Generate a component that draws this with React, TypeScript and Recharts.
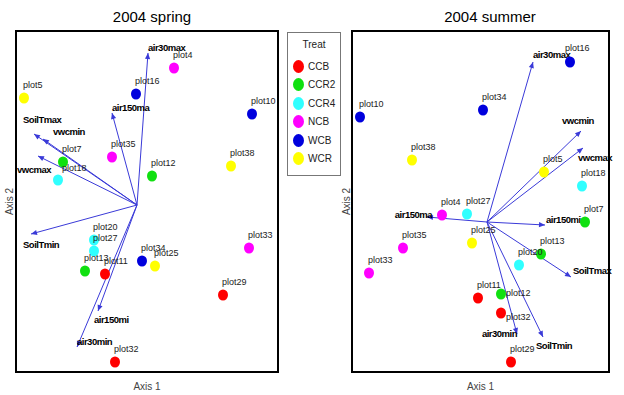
import { ScatterChart, Scatter, XAxis, YAxis, ReferenceLine, ReferenceArea } from 'recharts'

// plots and their treatment
const plots = [
  'plot4', 'plot5', 'plot7', 'plot10', 'plot11', 'plot12', 'plot13', 'plot16', 'plot18',
  'plot20', 'plot25', 'plot27', 'plot29', 'plot32', 'plot33', 'plot34', 'plot35', 'plot38',
]
const treat = [
  'NCB', 'WCR', 'CCR2', 'WCB', 'CCB', 'CCR2', 'CCR2', 'WCB', 'CCR4',
  'CCR4', 'WCR', 'CCR4', 'CCB', 'CCB', 'NCB', 'WCB', 'NCB', 'WCR',
]
const treatments = ['CCB', 'CCR2', 'CCR4', 'NCB', 'WCB', 'WCR']

// site scores, 2004 spring
const springAxis1 = [0.37, -1.13, -0.74, 1.15, -0.32, 0.15, -0.52, -0.01, -0.79, -0.43, 0.18, -0.43, 0.86, -0.22, 1.12, 0.05, -0.25, 0.94]
const springAxis2 = [1.37, 1.07, 0.43, 0.91, -0.69, 0.29, -0.66, 1.11, 0.25, -0.35, -0.61, -0.46, -0.9, -1.57, -0.43, -0.56, 0.48, 0.39]
// site scores, 2004 summer
const summerAxis1 = [-0.45, 0.57, 0.98, -1.27, -0.09, 0.14, 0.54, 0.83, 0.95, 0.32, -0.15, -0.2, 0.24, 0.14, -1.18, -0.04, -0.84, -0.75]
const summerAxis2 = [0.07, 0.5, 0.0, 1.05, -0.76, -0.72, -0.32, 1.6, 0.36, -0.43, -0.21, 0.08, -1.4, -0.91, -0.51, 1.12, -0.26, 0.62]

// environmental vectors
const variables = ['air30max', 'air150ma', 'SoilTmax', 'vwcmin', 'vwcmax', 'SoilTmin', 'air150mi', 'air30min']
const springVec1 = [0.11, -0.25, -1.03, -0.94, -0.99, -1.06, -0.39, -0.6]
const springVec2 = [1.52, 0.92, 0.71, 0.66, 0.49, -0.29, -1.06, -1.42]
const summerVec1 = [0.46, -0.6, 0.84, 0.94, 0.96, 0.56, 0.58, 0.3]
const summerVec2 = [1.6, 0.05, -0.55, 0.91, 0.74, -1.15, -0.03, -1.12]

const springXDomain = [-1.21, 1.41]
const springYDomain = [-1.67, 1.74]
const summerXDomain = [-1.35, 1.22]
const summerYDomain = [-1.5, 1.91]

const COLORS: Record<string, string> = {
  CCB: '#ff0000', CCR2: '#10e010', CCR4: '#30ffff', NCB: '#ff00ff', WCB: '#0000dd', WCR: '#ffff00',
}
const ARROW = '#3a3ad8'
const FONT = '"Liberation Sans", Arial, sans-serif'

type Place = { dx: number; dy: number; anchor?: 'start' | 'end' }

// label placement (pixels from arrow tip)
const springVecPlace: Record<string, Place> = {
  air30max: { dx: 0, dy: -6 }, air150ma: { dx: 0, dy: -6 }, SoilTmax: { dx: -11, dy: -15 },
  vwcmin: { dx: 10, dy: -8 }, vwcmax: { dx: -21, dy: 13 }, SoilTmin: { dx: -8, dy: 10 },
  air150mi: { dx: -4, dy: 8 }, air30min: { dx: 0, dy: -6 },
}
const summerVecPlace: Record<string, Place> = {
  air30max: { dx: 0, dy: -8 }, air150ma: { dx: 5, dy: -3, anchor: 'end' }, SoilTmax: { dx: 2, dy: -7 },
  vwcmin: { dx: -19, dy: -11 }, vwcmax: { dx: -5, dy: 9 }, SoilTmin: { dx: -7, dy: 8 },
  air150mi: { dx: 1, dy: -6 }, air30min: { dx: 0, dy: -1, anchor: 'end' },
}
const springPtPlace: Record<string, Place> = { plot18: { dx: 4, dy: -12 } }
const summerPtPlace: Record<string, Place> = {
  plot12: { dx: 5, dy: -1 }, plot32: { dx: 5, dy: 4 }, plot16: { dx: -5, dy: -14 },
}

function arrowShape(name: string, place: Place) {
  return (p: any) => {
    const { x1, y1, x2, y2 } = p
    const a = Math.atan2(y2 - y1, x2 - x1)
    const len = 6
    const hw = 2.6
    const bx = x2 - len * Math.cos(a)
    const by = y2 - len * Math.sin(a)
    const pts = [
      `${x2},${y2}`,
      `${bx - hw * Math.sin(a)},${by + hw * Math.cos(a)}`,
      `${bx + hw * Math.sin(a)},${by - hw * Math.cos(a)}`,
    ].join(' ')
    return (
      <g>
        <line x1={x1} y1={y1} x2={x2} y2={y2} stroke={ARROW} strokeWidth={1} />
        <polygon points={pts} fill={ARROW} />
        <text x={x2 + place.dx} y={y2 + place.dy} textAnchor={place.anchor ?? 'start'} dominantBaseline="central"
          fontSize={9.5} fontWeight="bold" letterSpacing={-0.5} fill="#000" fontFamily={FONT}>{name}</text>
      </g>
    )
  }
}

function Panel({ left, width, yAxisW, right, xs, ys, vx, vy, xDomain, yDomain, vecPlace, ptPlace }: any) {
  const data = plots.map((p, i) => ({ name: p, treat: treat[i], x: xs[i], y: ys[i] }))
  return (
    <div style={{ position: 'absolute', left, top: 0 }}>
      <ScatterChart width={width} height={395} margin={{ top: 31, right, bottom: 0, left: 0 }}>
        <XAxis type="number" dataKey="x" domain={xDomain} tick={false} tickLine={false} axisLine={false} height={23}
          label={{ value: 'Axis 1', position: 'insideBottom', offset: 5, fill: '#444', fontSize: 10, fontFamily: FONT }} />
        <YAxis type="number" dataKey="y" domain={yDomain} tick={false} tickLine={false} axisLine={false} width={yAxisW}
          label={{ value: 'Axis 2', angle: -90, position: 'center', fill: '#444', fontSize: 10, fontFamily: FONT }} />
        <ReferenceArea x1={xDomain[0]} x2={xDomain[1]} y1={yDomain[0]} y2={yDomain[1]} fill="none" stroke="#000" strokeWidth={2} ifOverflow="visible" />
        <Scatter data={data} isAnimationActive={false}
          shape={(p: any) => <ellipse cx={p.cx} cy={p.cy} rx={5} ry={5.5} fill={COLORS[p.payload.treat]} />} />
        {variables.map((v, i) => (
          <ReferenceLine key={v} segment={[{ x: 0, y: 0 }, { x: vx[i], y: vy[i] }]} ifOverflow="visible"
            shape={arrowShape(v, vecPlace[v])} />
        ))}
        <Scatter data={data} isAnimationActive={false}
          shape={(p: any) => {
            const o = ptPlace[p.payload.name] ?? { dx: -1, dy: -13 }
            return (
              <text x={p.cx + o.dx} y={p.cy + o.dy} dominantBaseline="central" fontSize={9} fill="#222" fontFamily={FONT}>
                {p.payload.name}
              </text>
            )
          }} />
      </ScatterChart>
    </div>
  )
}

export default function App() {
  return (
    <div style={{ position: 'fixed', left: 0, top: 0, width: 624, height: 395, background: '#fff', fontFamily: FONT }}>
      <div style={{ position: 'absolute', left: 0, width: 304, top: 8, textAlign: 'center', fontSize: 15, lineHeight: '18px' }}>2004 spring</div>
      <div style={{ position: 'absolute', left: 390, width: 200, top: 8, textAlign: 'center', fontSize: 15, lineHeight: '18px' }}>2004 summer</div>
      <Panel left={3} width={287} yAxisW={13} right={12} xs={springAxis1} ys={springAxis2} vx={springVec1} vy={springVec2}
        xDomain={springXDomain} yDomain={springYDomain} vecPlace={springVecPlace} ptPlace={springPtPlace} />
      <Panel left={340} width={284} yAxisW={12} right={15} xs={summerAxis1} ys={summerAxis2} vx={summerVec1} vy={summerVec2}
        xDomain={summerXDomain} yDomain={summerYDomain} vecPlace={summerVecPlace} ptPlace={summerPtPlace} />
      <div style={{ position: 'absolute', left: 287, top: 32, width: 52, height: 142, border: '1px solid #777', background: '#fff' }}>
        <div style={{ position: 'absolute', left: 0, width: 52, top: 6, textAlign: 'center', fontSize: 10, color: '#222' }}>Treat</div>
        {treatments.map((t, i) => (
          <div key={t} style={{ position: 'absolute', left: 5, top: 27 + i * 18.4, height: 13, display: 'flex', alignItems: 'center' }}>
            <span style={{ width: 11, height: 13, borderRadius: '50%', background: COLORS[t], display: 'inline-block' }} />
            <span style={{ marginLeft: 4, fontSize: 10, color: '#222' }}>{t}</span>
          </div>
        ))}
      </div>
    </div>
  )
}
